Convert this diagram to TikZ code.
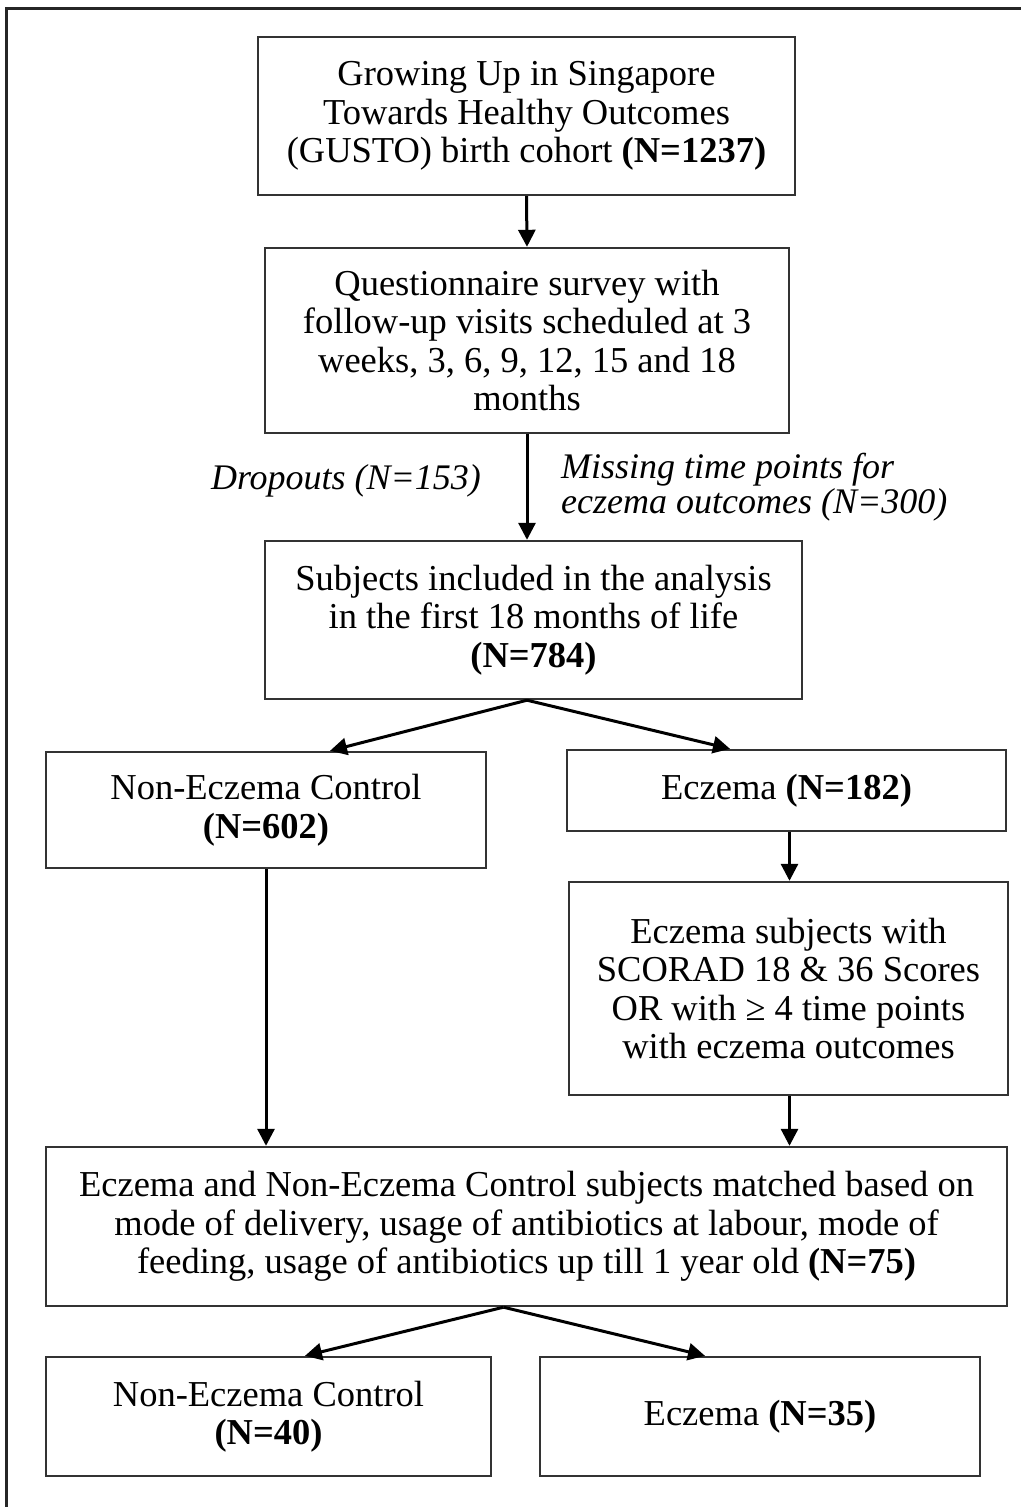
\documentclass[tikz,border=0pt]{standalone}
\usepackage{fontspec}
\setmainfont{Liberation Serif}
\usetikzlibrary{arrows.meta}
\begin{document}
\begin{tikzpicture}[x=1pt,y=-1pt,
  box/.style={draw=black!80, line width=2.4pt, align=center, inner sep=0pt,
    font=\fontsize{36.5}{38.5}\selectfont},
  arr/.style={draw=black, line width=3pt, -{Triangle[length=17pt,width=17pt]}},
  lab/.style={font=\fontsize{36}{35}\selectfont\itshape, inner sep=0pt}]
\useasboundingbox (0,0) rectangle (1021,1507);
\draw[line width=3pt, draw=black!85] (6,1507) -- (6,8) -- (1021,8);

\node[box, minimum width=537, minimum height=158] (n1) at (526.5,116)
  {Growing Up in Singapore\\Towards Healthy Outcomes\\(GUSTO) birth cohort \textbf{(N=1237)}};
\node[box, minimum width=524, minimum height=185] (n2) at (527,340.5)
  {Questionnaire survey with\\follow-up visits scheduled at 3\\weeks, 3, 6, 9, 12, 15 and 18\\months};
\node[box, minimum width=537, minimum height=158] (n3) at (533.5,620)
  {Subjects included in the analysis\\in the first 18 months of life\\\textbf{(N=784)}};
\node[box, minimum width=440, minimum height=116] (n4) at (266,810)
  {Non-Eczema Control\\\textbf{(N=602)}};
\node[box, minimum width=439, minimum height=81] (n5) at (786.5,790.5)
  {Eczema \textbf{(N=182)}};
\node[box, minimum width=439, minimum height=213] (n6) at (788.5,988.5)
  {Eczema subjects with\\SCORAD 18 \& 36 Scores\\OR with ≥ 4 time points\\with eczema outcomes};
\node[box, minimum width=961, minimum height=159] (n7) at (526.5,1226.5)
  {Eczema and Non-Eczema Control subjects matched based on\\mode of delivery, usage of antibiotics at labour, mode of\\feeding, usage of antibiotics up till 1 year old \textbf{(N=75)}};
\node[box, minimum width=445, minimum height=119] (n8) at (268.5,1416.5)
  {Non-Eczema Control\\\textbf{(N=40)}};
\node[box, minimum width=440, minimum height=119] (n9) at (760,1416.5)
  {Eczema \textbf{(N=35)}};

\node[lab, anchor=center] (d) at (346,481) {Dropouts (N=153)};
\node[lab, anchor=west, align=left] (m) at (561,487) {Missing time points for\\eczema outcomes (N=300)};

\draw[arr] (n1.south) -- (n2.north);
\draw[arr] (n2.south) -- (n2.south |- n3.north);
\draw[arr] ([xshift=-6.5]n3.south) -- ([xshift=64]n4.north);
\draw[arr] ([xshift=-6.5]n3.south) -- ([xshift=-56.5]n5.north);
\draw[arr] (n4.south) -- (n4.south |- n7.north);
\draw[arr] ([xshift=3]n5.south) -- ([xshift=1]n6.north);
\draw[arr] ([xshift=1]n6.south) -- ([xshift=1]n6.south |- n7.north);
\draw[arr] ([xshift=-23]n7.south) -- ([xshift=36.5]n8.north);
\draw[arr] ([xshift=-23]n7.south) -- ([xshift=-55]n9.north);
\end{tikzpicture}
\end{document}
